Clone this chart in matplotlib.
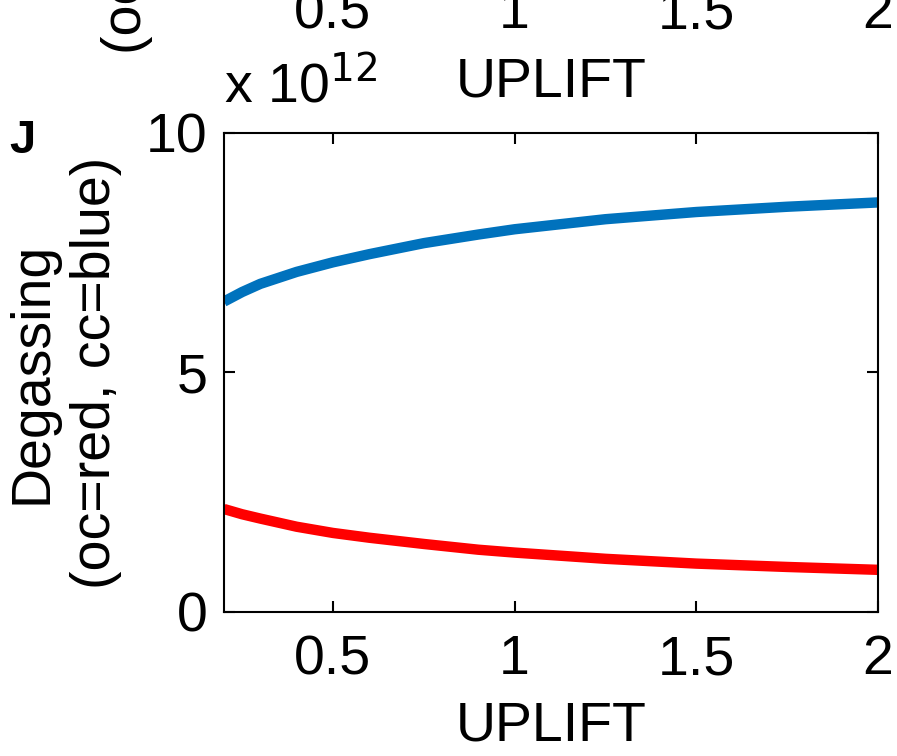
import numpy as np
import matplotlib.pyplot as plt

plt.rcParams['font.family'] = ['Liberation Sans', 'DejaVu Sans']

# values (degassing in units of 1e12)
uplift = [0.2, 0.25, 0.3, 0.4, 0.5, 0.6, 0.75, 0.9, 1.0, 1.25, 1.5, 1.75, 2.0]
cc_degassing = [6.48, 6.68, 6.85, 7.1, 7.3, 7.47, 7.7, 7.88, 7.99, 8.2, 8.35, 8.46, 8.55]
oc_degassing = [2.15, 2.04, 1.95, 1.78, 1.65, 1.55, 1.42, 1.3, 1.24, 1.11, 1.01, 0.94, 0.88]

xticks = [0.5, 1, 1.5, 2]
yticks = [0, 5, 10]

fig = plt.figure(figsize=(8.97, 7.56), dpi=100)
fs = 40

# lower part of the panel above, cut off by the figure edge
ax0 = fig.add_axes([0.2497, 1.045, 0.7291, 0.6])
ax0.set_xlim(0.2, 2)
ax0.set_xticks(xticks)
ax0.set_xticklabels(['0.5', '1', '1.5', '2'])
ax0.tick_params(labelsize=fs, direction='in', length=8, width=1.5, top=True, right=True, pad=16)
ax0.set_yticks([])
ax0.set_xlabel('UPLIFT', fontsize=fs, labelpad=12)
fig.text(0.142, 0.928, '(oc=red, cc=blue)', rotation=90, fontsize=fs,
         ha='center', va='bottom')

ax = fig.add_axes([0.2497, 0.1905, 0.7291, 0.6336])
ax.plot(uplift, cc_degassing, color='#0072BD', lw=7.5, solid_capstyle='butt')
ax.plot(uplift, oc_degassing, color='#FF0000', lw=7.5, solid_capstyle='butt')
ax.set_xlim(0.2, 2)
ax.set_ylim(0, 10)
ax.set_xticks(xticks)
ax.set_xticklabels(['0.5', '1', '1.5', '2'])
ax.set_yticks(yticks)
ax.set_yticklabels(['0', '5', '10'])
ax.tick_params(axis='x', pad=16)
ax.tick_params(labelsize=fs, direction='in', length=8, width=1.5, top=True, right=True)
ax.tick_params(axis='y', pad=12)
for s in ax.spines.values():
    s.set_linewidth(1.5)
ax.set_xlabel('UPLIFT', fontsize=fs, labelpad=10)
ax.set_ylabel('Degassing\n(oc=red, cc=blue)', fontsize=fs, labelpad=17, linespacing=1.3)

fig.text(0.25, 0.885, r'x 10$^{12}$', fontsize=fs, ha='left', va='center')
fig.text(0.01, 0.842, 'J', fontsize=34, fontweight='bold', ha='left', va='top')

fig.savefig('out.png', dpi=100)
